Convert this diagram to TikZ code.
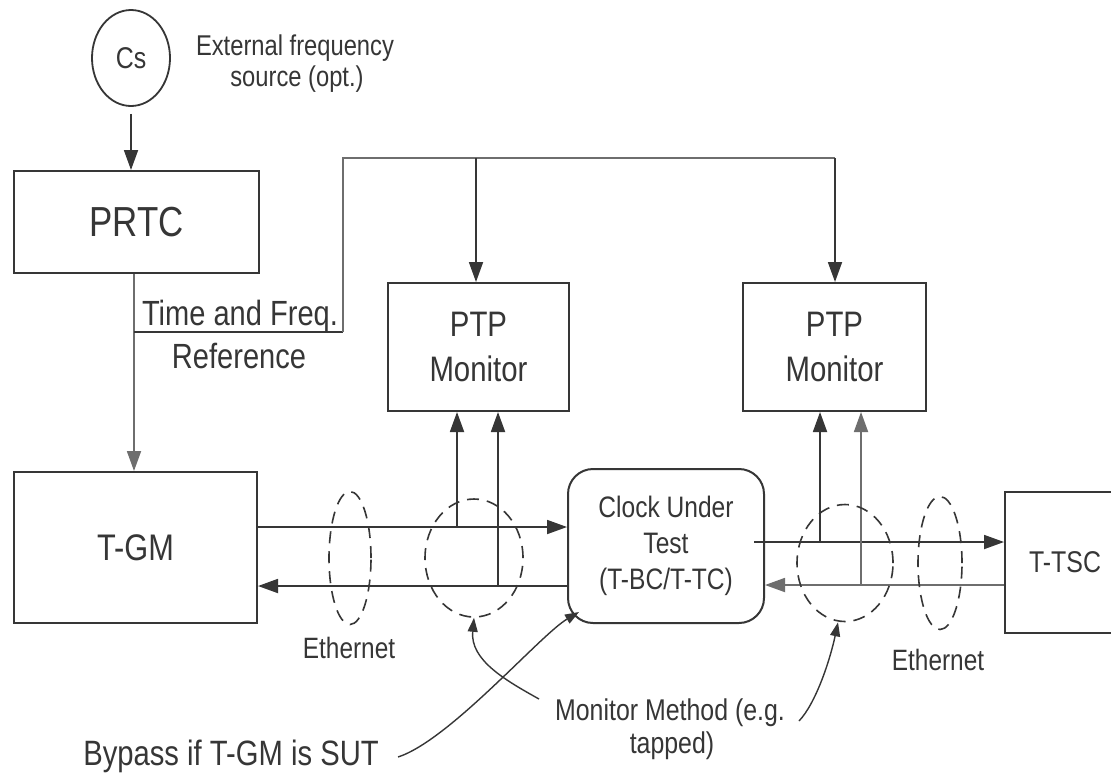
\documentclass[tikz,border=0pt]{standalone}
\usepackage{fontspec}
\setmainfont{Liberation Sans}[FakeStretch=0.83]
\usetikzlibrary{arrows.meta,shapes.geometric}
\definecolor{ink}{HTML}{363636}
\definecolor{lite}{HTML}{6E6E6E}
\newcommand\fsz[2]{\fontsize{#1}{#2}\selectfont}

\begin{document}
\begin{tikzpicture}[x=0.5pt,y=-0.5pt,
  box/.style={draw=ink,line width=1pt,rectangle,inner sep=0pt,text=ink,align=center},
  wire/.style={draw=ink,line width=0.9pt},
  litewire/.style={draw=lite,line width=0.9pt},
  tip/.style={-{Triangle[length=10pt,width=7pt]}},
  lbl/.style={text=ink,inner sep=0pt,anchor=base},
  ring/.style={ellipse,draw=ink,line width=0.8pt,dash pattern=on 6pt off 4pt,inner sep=0pt},
  note/.style={draw=ink,line width=0.7pt,-{Triangle[length=7pt,width=5pt]}}]

\clip (0,0) rectangle (1111,772);
\fill[white] (0,0) rectangle (1111,772);

% clock source and reference chain
\node[ellipse,draw=ink,line width=0.9pt,minimum width=39pt,minimum height=48pt,
      inner sep=0pt,text=ink,font=\fsz{15pt}{18pt}] (cs) at (131,58) {Cs};
\node[lbl,font=\fsz{14.3pt}{17pt}] (ext1) at (295,55) {External frequency};
\node[lbl,font=\fsz{14.3pt}{17pt}] (ext2) at (297,86) {source (opt.)};

\node[box,minimum width=122.5pt,minimum height=51pt,font=\fsz{21pt}{24pt}] (prtc) at (136.5,222) {PRTC};
\node[box,minimum width=121.5pt,minimum height=75.5pt,font=\fsz{18.5pt}{22pt}] (tgm) at (135.5,547.5) {T-GM};

\node[box,minimum width=90.5pt,minimum height=64pt,font=\fsz{17.7pt}{22.5pt}] (mon1) at (478.5,347) {PTP\\Monitor};
\node[box,minimum width=91.5pt,minimum height=64pt,font=\fsz{17.7pt}{22.5pt}] (mon2) at (834.5,347) {PTP\\Monitor};

\node[box,rounded corners=12.5pt,minimum width=98pt,minimum height=77pt,font=\fsz{14.8pt}{18pt}] (cut) at (666,546) {Clock Under\\Test\\(T-BC/T-TC)};
\node[box,minimum width=60pt,minimum height=70.5pt,font=\fsz{15pt}{18pt}] (ttsc) at (1065,562.5) {T-TSC};

\draw[wire,tip,shorten <=3.5pt] (cs.south) -- (cs.south |- prtc.north);

% time and frequency reference distribution
\coordinate (tf)  at (134,332);
\coordinate (tfr) at (343,332);
\coordinate (bl)  at (343,158);
\coordinate (bm)  at (476,158);
\coordinate (br)  at (835,158);

\draw[litewire] (prtc.south -| tf) -- (tf);
\draw[litewire,tip] (tf) -- (tgm.north -| tf);
\draw[wire] (tf) -- (tfr);
\draw[litewire] (tfr) -- (bl) -- (br);
\draw[wire,tip] (bm) -- (mon1.north -| bm);
\draw[wire,tip] (br) -- (mon2.north -| br);

\node[lbl,font=\fsz{17.5pt}{20pt}] (tflbl1) at (240,325) {Time and Freq.};
\node[lbl,font=\fsz{17.5pt}{20pt}] (tflbl2) at (239,368) {Reference};

% Ethernet links
\coordinate (hu)  at (0,527);
\coordinate (hl)  at (0,586);
\coordinate (hru) at (0,542);
\coordinate (hrl) at (0,585);

\draw[wire,tip] (tgm.east |- hu) -- (cut.west |- hu);
\draw[wire,tip] (cut.west |- hl) -- (tgm.east |- hl);
\draw[wire,tip] ([xshift=-5.5pt]cut.east |- hru) -- (ttsc.west |- hru);
\draw[litewire,tip] (ttsc.west |- hrl) -- (cut.east |- hrl);

% tap points feeding the monitors
\coordinate (t1a) at (457,527);
\coordinate (t1b) at (498,586);
\coordinate (t2a) at (820,542);
\coordinate (t2b) at (861,585);

\draw[wire,tip] (t1a) -- (t1a |- mon1.south);
\draw[wire,tip] (t1b) -- (t1b |- mon1.south);
\draw[wire,tip] (t2a) -- (t2a |- mon2.south);
\draw[litewire,tip] (t2b) -- (t2b |- mon2.south);

% dashed rings
\node[ring,minimum width=21pt,minimum height=66.5pt] (eth1) at (350,558) {};
\node[ring,minimum width=49pt,minimum height=59pt]   (tap1) at (474,558) {};
\node[ring,minimum width=48pt,minimum height=58.5pt] (tap2) at (845,563) {};
\node[ring,minimum width=22pt,minimum height=66.5pt] (eth2) at (940,563) {};

\node[lbl,font=\fsz{14.7pt}{17pt}] (ethlbl1) at (349,658) {Ethernet};
\node[lbl,font=\fsz{14.7pt}{17pt}] (ethlbl2) at (938,670) {Ethernet};

% annotations
\node[lbl,font=\fsz{15pt}{18pt}] (mm1) at (670,720) {Monitor Method (e.g.};
\node[lbl,font=\fsz{15pt}{18pt}] (mm2) at (672,753) {tapped)};
\node[lbl,font=\fsz{17.6pt}{20pt}] (bypass) at (231,765) {Bypass if T-GM is SUT};

\coordinate (mmL) at (539,699);
\coordinate (mmR) at (799,721);
\coordinate (bpS) at (398,757);
\coordinate (bpT) at (579,612);

\draw[note] (mmL) .. controls (505,680) and (470,660) .. (tap1.south);
\draw[note] (mmR) .. controls (816,703) and (830,660) .. ([xshift=-3.5pt]tap2.south);
\draw[note] (bpS) .. controls (450,740) and (540,635) .. (bpT);

\end{tikzpicture}
\end{document}
